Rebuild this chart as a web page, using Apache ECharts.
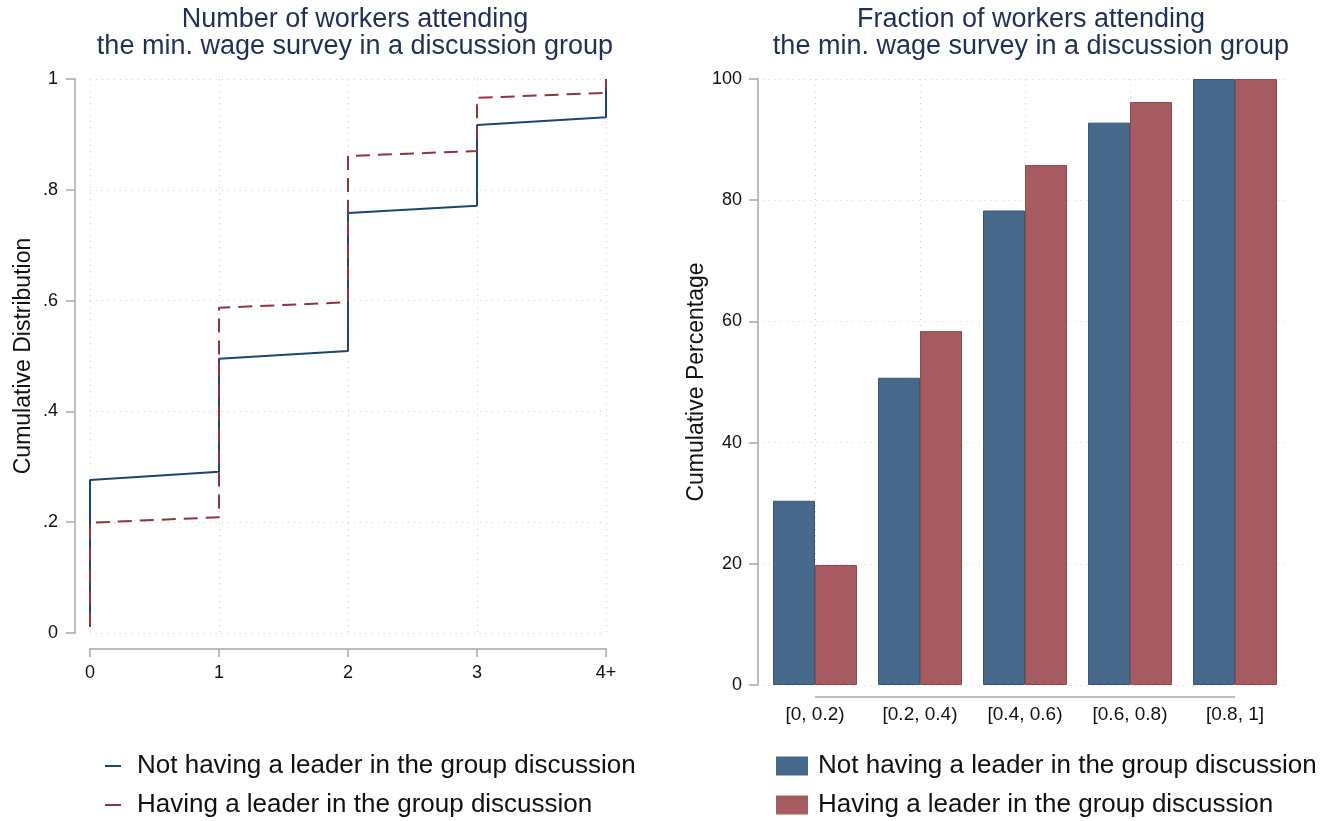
<!DOCTYPE html>
<html>
<head>
<meta charset="utf-8">
<script src="https://cdn.jsdelivr.net/npm/echarts@6/dist/echarts.min.js"></script>
<style>
  html, body { margin: 0; padding: 0; background: #fff; }
  #chart { width: 1343px; height: 821px; }
</style>
</head>
<body>
<div id="chart"></div>
<script>
// Left panel: cumulative distribution of the number of workers attending (step curve)
const countTicks = ['0', '1', '2', '3', '4+'];
const cdfX = [0, 0, 1, 1, 2, 2, 3, 3, 4, 4];
const cdfNoLeader = [0.011, 0.276, 0.291, 0.495, 0.509, 0.758, 0.771, 0.917, 0.931, 1.0];
const cdfLeader = [0.011, 0.199, 0.209, 0.587, 0.597, 0.861, 0.870, 0.966, 0.975, 1.0];
const cdfYTicks = ['0', '.2', '.4', '.6', '.8', '1'];

// Right panel: cumulative percentage by fraction-of-workers bin
const fractionBins = ['[0, 0.2)', '[0.2, 0.4)', '[0.4, 0.6)', '[0.6, 0.8)', '[0.8, 1]'];
const pctNoLeader = [30.4, 50.7, 78.3, 92.8, 100];
const pctLeader = [19.8, 58.4, 85.8, 96.2, 100];

const seriesNames = ['Not having a leader in the group discussion', 'Having a leader in the group discussion'];

const FONT = '"Liberation Sans", Arial, Helvetica, sans-serif';
const TITLE_COLOR = '#1f2f55';
const AXIS_COLOR = '#a8a8a8';
const GRID_STYLE = { color: '#d0d0d0', type: [1, 5], width: 1 };
const LINE_BLUE = '#1a476f', LINE_RED = '#90353b';
const BAR_BLUE = '#46698b', BAR_RED = '#a65b61';

const chart = echarts.init(document.getElementById('chart'), null, { renderer: 'canvas' });

const toPairs = (xs, ys) => xs.map((x, i) => [x, ys[i]]);

// one legend entry per component so each row sits exactly where it belongs
function legendRow(name, color, left, top, icon) {
  return {
    left: left, top: top, selectedMode: false,
    icon: 'rect', itemWidth: icon.w, itemHeight: icon.h,
    textStyle: { fontFamily: FONT, fontSize: 26, color: '#111', padding: [0, 0, 0, icon.pad] },
    data: [{ name: name, itemStyle: { color: color } }]
  };
}
const lineIcon = { w: 16, h: 2, pad: 11 };
const boxIcon = { w: 32, h: 19, pad: 5 };

const titleStyle = { fontFamily: FONT, fontSize: 27, fontWeight: 'normal', color: TITLE_COLOR, lineHeight: 27 };

const option = {
  animation: false,
  backgroundColor: '#fff',
  title: [
    { text: 'Number of workers attending\nthe min. wage survey in a discussion group',
      left: 350, top: 1, textAlign: 'center', textStyle: titleStyle },
    { text: 'Fraction of workers attending\nthe min. wage survey in a discussion group',
      left: 1026, top: 1, textAlign: 'center', textStyle: titleStyle }
  ],
  legend: [
    legendRow(seriesNames[0], LINE_BLUE, 100, 748, lineIcon),
    legendRow(seriesNames[1], LINE_RED, 100, 787, lineIcon),
    legendRow(seriesNames[0], BAR_BLUE, 771, 748, boxIcon),
    legendRow(seriesNames[1], BAR_RED, 771, 787, boxIcon)
  ],
  grid: [
    { left: 90, top: 79, width: 516, height: 554, containLabel: false },
    { left: 762.5, top: 79, width: 525, height: 606, containLabel: false }
  ],
  xAxis: [
    {
      gridIndex: 0, type: 'value', min: 0, max: 4, interval: 1, offset: 16,
      axisLine: { show: true, onZero: false, lineStyle: { color: AXIS_COLOR, width: 1.5 } },
      axisTick: { show: true, length: 8, lineStyle: { color: AXIS_COLOR, width: 1.5 } },
      axisLabel: { margin: 15, fontFamily: FONT, fontSize: 18, color: '#111',
        formatter: v => countTicks[v] },
      splitLine: { show: true, lineStyle: GRID_STYLE }
    },
    {
      gridIndex: 1, type: 'category', data: fractionBins, boundaryGap: true,
      axisLine: { show: false },
      axisTick: { show: false, alignWithLabel: true },
      axisLabel: { margin: 20, fontFamily: FONT, fontSize: 19, color: '#111' },
      splitLine: { show: true, alignWithLabel: true, lineStyle: GRID_STYLE }
    }
  ],
  yAxis: [
    {
      gridIndex: 0, type: 'value', min: 0, max: 1, interval: 0.2, offset: 15,
      name: 'Cumulative Distribution', nameLocation: 'middle', nameGap: 40,
      nameTextStyle: { fontFamily: FONT, fontSize: 23, color: '#111' },
      axisLine: { show: true, onZero: false, lineStyle: { color: AXIS_COLOR, width: 1.5 } },
      axisTick: { show: true, length: 9, lineStyle: { color: AXIS_COLOR, width: 1.5 } },
      axisLabel: { margin: 17, fontFamily: FONT, fontSize: 18, color: '#111',
        formatter: v => cdfYTicks[Math.round(v * 5)] },
      splitLine: { show: true, lineStyle: GRID_STYLE }
    },
    {
      gridIndex: 1, type: 'value', min: 0, max: 100, interval: 20, offset: 4.5,
      name: 'Cumulative Percentage', nameLocation: 'middle', nameGap: 50,
      nameTextStyle: { fontFamily: FONT, fontSize: 23, color: '#111' },
      axisLine: { show: true, onZero: false, lineStyle: { color: AXIS_COLOR, width: 1.5 } },
      axisTick: { show: true, length: 9, lineStyle: { color: AXIS_COLOR, width: 1.5 } },
      axisLabel: { margin: 16, fontFamily: FONT, fontSize: 18, color: '#111' },
      splitLine: { show: true, lineStyle: GRID_STYLE }
    }
  ],
  series: [
    {
      name: seriesNames[0], type: 'line', xAxisIndex: 0, yAxisIndex: 0,
      data: toPairs(cdfX, cdfNoLeader), symbol: 'none', z: 3,
      lineStyle: { color: LINE_BLUE, width: 2 }, itemStyle: { color: LINE_BLUE }
    },
    {
      name: seriesNames[1], type: 'line', xAxisIndex: 0, yAxisIndex: 0,
      data: toPairs(cdfX, cdfLeader), symbol: 'none', z: 4,
      lineStyle: { color: LINE_RED, width: 2, type: [14, 8] }, itemStyle: { color: LINE_RED }
    },
    {
      name: seriesNames[0], type: 'bar', xAxisIndex: 1, yAxisIndex: 1,
      data: pctNoLeader, barGap: '0%', barCategoryGap: '20%',
      itemStyle: { color: BAR_BLUE, borderColor: '#3a5874', borderWidth: 1 }
    },
    {
      name: seriesNames[1], type: 'bar', xAxisIndex: 1, yAxisIndex: 1,
      data: pctLeader, barGap: '0%', barCategoryGap: '20%',
      itemStyle: { color: BAR_RED, borderColor: '#8e4a50', borderWidth: 1 }
    }
  ]
};

chart.setOption(option);

// Category axis line of the bar panel spans from the first to the last category centre,
// sitting just below the plot area.
const first = chart.convertToPixel({ xAxisIndex: 1 }, fractionBins[0]);
const last = chart.convertToPixel({ xAxisIndex: 1 }, fractionBins[fractionBins.length - 1]);
const baseY = chart.convertToPixel({ yAxisIndex: 1 }, 0) + 12;
chart.setOption({
  graphic: [{
    type: 'line', silent: true,
    shape: { x1: first, y1: baseY, x2: last, y2: baseY },
    style: { stroke: AXIS_COLOR, lineWidth: 1.5 }
  }]
});
</script>
</body>
</html>
